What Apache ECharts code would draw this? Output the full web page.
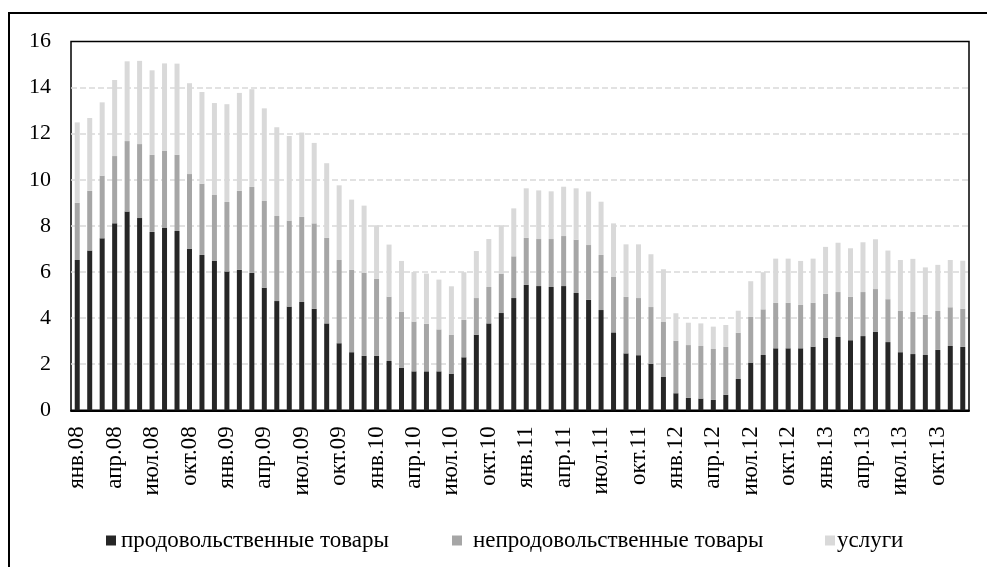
<!DOCTYPE html>
<html>
<head>
<meta charset="utf-8">
<script src="https://cdn.jsdelivr.net/npm/echarts@6/dist/echarts.min.js"></script>
<style>
  html, body { margin: 0; padding: 0; background: #fff; }
  #chart { width: 987px; height: 567px; }
</style>
</head>
<body>
<div id="chart"></div>
<script>
// месяцы и годы для подписей оси
var months = ['янв', 'фев', 'мар', 'апр', 'май', 'июн', 'июл', 'авг', 'сен', 'окт', 'ноя', 'дек'];
var years = ['08', '09', '10', '11', '12', '13'];

var seriesNames = ['продовольственные товары', 'непродовольственные товары', 'услуги'];

// продовольственные товары
var food = [
  6.52, 6.93, 7.46, 8.11, 8.62, 8.34, 7.74, 7.91, 7.78, 7.00, 6.74, 6.48,
  6.02, 6.09, 5.96, 5.32, 4.74, 4.50, 4.70, 4.40, 3.77, 2.91, 2.52, 2.36,
  2.36, 2.14, 1.85, 1.69, 1.69, 1.69, 1.59, 2.30, 3.28, 3.77, 4.22, 4.87,
  5.44, 5.39, 5.35, 5.39, 5.09, 4.79, 4.35, 3.38, 2.47, 2.39, 2.02, 1.46,
  0.74, 0.54, 0.51, 0.45, 0.67, 1.36, 2.07, 2.40, 2.69, 2.69, 2.69, 2.76,
  3.14, 3.18, 3.04, 3.22, 3.40, 2.96, 2.52, 2.44, 2.40, 2.62, 2.79, 2.75
];
// непродовольственные товары
var nonFood = [
  2.48, 2.59, 2.72, 2.92, 3.06, 3.21, 3.34, 3.34, 3.30, 3.25, 3.09, 2.86,
  3.02, 3.43, 3.73, 3.76, 3.69, 3.73, 3.69, 3.71, 3.71, 3.61, 3.57, 3.61,
  3.35, 2.79, 2.42, 2.16, 2.06, 1.82, 1.68, 1.62, 1.59, 1.58, 1.71, 1.81,
  2.04, 2.04, 2.08, 2.17, 2.31, 2.38, 2.39, 2.42, 2.45, 2.48, 2.46, 2.37,
  2.27, 2.29, 2.28, 2.21, 2.08, 2.00, 1.98, 1.98, 1.97, 1.97, 1.88, 1.90,
  1.91, 1.95, 1.88, 1.91, 1.86, 1.86, 1.79, 1.83, 1.74, 1.69, 1.68, 1.65
];
// услуги
var services = [
  3.49, 3.16, 3.18, 3.30, 3.46, 3.61, 3.67, 3.80, 3.96, 3.94, 3.98, 3.99,
  4.24, 4.25, 4.24, 4.02, 3.85, 3.67, 3.66, 3.49, 3.24, 3.24, 3.05, 2.91,
  2.32, 2.26, 2.21, 2.15, 2.18, 2.16, 2.11, 2.07, 2.04, 2.08, 2.10, 2.08,
  2.15, 2.11, 2.07, 2.14, 2.23, 2.32, 2.31, 2.31, 2.28, 2.33, 2.29, 2.29,
  1.20, 0.97, 0.98, 0.97, 0.95, 0.96, 1.55, 1.61, 1.92, 1.92, 1.91, 1.92,
  2.04, 2.14, 2.11, 2.16, 2.16, 2.11, 2.21, 2.30, 2.06, 2.00, 2.05, 2.09
];

var colors = ['#262626', '#a6a6a6', '#d9d9d9'];
var font = 'Liberation Serif';

var categories = [];
years.forEach(function (y) {
  months.forEach(function (m) {
    categories.push(m + '.' + y);
  });
});

// отдельная легенда на каждую серию, как в оригинале
function makeLegend(i, left, textPad) {
  return {
    data: [seriesNames[i]],
    left: left,
    top: 524,
    icon: 'rect',
    itemWidth: 10,
    itemHeight: 10,
    itemGap: 0,
    textStyle: { fontFamily: font, fontSize: 23, color: '#000', padding: [0, 0, 0, textPad] },
    selectedMode: false
  };
}

var option = {
  backgroundColor: '#fff',
  animation: false,
  color: colors,
  graphic: [{
    type: 'rect',
    shape: { x: 9, y: 13, width: 1000, height: 600 },
    style: { fill: 'none', stroke: '#000', lineWidth: 2 },
    silent: true
  }],
  legend: [
    makeLegend(0, 101, 0),
    makeLegend(1, 447, 6),
    makeLegend(2, 820, -3)
  ],
  grid: {
    left: 71,
    top: 41.5,
    right: 18,
    bottom: 156.7,
    show: true,
    borderColor: '#000',
    borderWidth: 1.5
  },
  xAxis: {
    type: 'category',
    data: categories,
    axisLine: { lineStyle: { color: '#000', width: 2 } },
    axisTick: { show: false },
    axisLabel: {
      interval: 2,
      rotate: 90,
      margin: 16,
      fontFamily: font,
      fontSize: 23,
      color: '#000'
    }
  },
  yAxis: {
    type: 'value',
    min: 0,
    max: 16,
    interval: 2,
    axisLine: { show: false },
    axisTick: { show: false },
    axisLabel: { margin: 20, fontFamily: font, fontSize: 22, color: '#000' },
    splitLine: {
      showMinLine: false,
      showMaxLine: false,
      lineStyle: { color: '#d9d9d9', type: 'dashed', width: 1.5 }
    }
  },
  series: [
    { name: seriesNames[0], type: 'bar', stack: 'total', barWidth: 5, data: food },
    { name: seriesNames[1], type: 'bar', stack: 'total', barWidth: 5, data: nonFood },
    { name: seriesNames[2], type: 'bar', stack: 'total', barWidth: 5, data: services }
  ]
};

var myChart = echarts.init(document.getElementById('chart'));
myChart.setOption(option);
</script>
</body>
</html>
